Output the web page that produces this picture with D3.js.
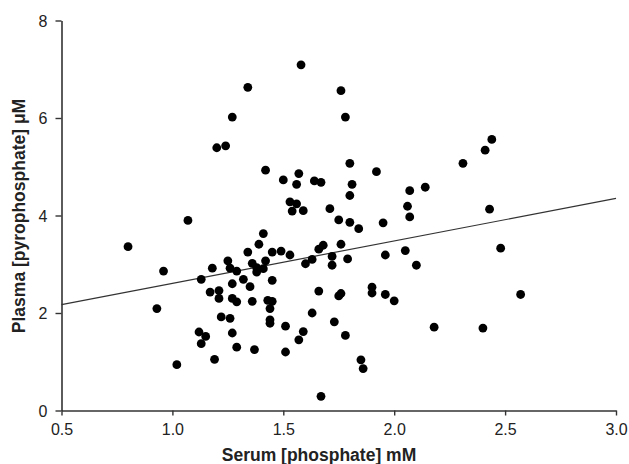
<!DOCTYPE html>
<html>
<head>
<meta charset="utf-8">
<script src="https://cdn.jsdelivr.net/npm/d3@7"></script>
<style>
  html, body { margin: 0; padding: 0; background: #fff; }
  svg { display: block; }
</style>
</head>
<body>
<svg id="chart" width="629" height="464"></svg>
<script>
// Serum phosphate (mM)
const serumPhosphate = [
  0.80, 0.96, 0.93, 1.02, 1.07, 1.13, 1.18, 1.17, 1.21, 1.21,
  1.12, 1.15, 1.13, 1.19, 1.22, 1.26, 1.25, 1.26, 1.29, 1.27,
  1.27, 1.29, 1.27, 1.29, 1.32, 1.34, 1.35, 1.36, 1.37, 1.36,
  1.38, 1.38, 1.41, 1.42, 1.39, 1.41, 1.45, 1.49, 1.53, 1.45,
  1.43, 1.45, 1.44, 1.44, 1.44, 1.51, 1.51, 1.57, 1.59, 1.63,
  1.66, 1.66, 1.63, 1.60, 1.67, 1.53, 1.56, 1.54, 1.59, 1.58,
  1.34, 1.27, 1.20, 1.24, 1.42, 1.50, 1.57, 1.56, 1.64, 1.67,
  1.76, 1.78, 1.80, 1.92, 1.81, 1.80, 2.31, 2.41, 2.44, 1.71,
  1.75, 1.80, 1.84, 1.95, 2.07, 2.14, 2.06, 2.07, 2.43, 1.68,
  1.76, 1.72, 1.72, 1.79, 1.96, 2.05, 2.10, 2.48, 1.75, 1.76,
  1.90, 1.90, 1.96, 2.00, 2.57, 1.73, 1.78, 2.18, 2.40, 1.85,
  1.86
];
// Plasma pyrophosphate (µM)
const plasmaPyrophosphate = [
  3.36, 2.86, 2.09, 0.94, 3.90, 2.69, 2.92, 2.43, 2.46, 2.30,
  1.61, 1.52, 1.37, 1.05, 1.92, 1.89, 3.07, 2.92, 2.86, 2.60,
  2.30, 2.23, 1.59, 1.30, 2.69, 3.25, 2.54, 2.24, 1.25, 3.02,
  2.93, 2.84, 2.91, 3.07, 3.41, 3.63, 3.25, 3.27, 3.19, 2.67,
  2.26, 2.24, 2.09, 1.86, 1.79, 1.73, 1.20, 1.45, 1.62, 2.00,
  2.45, 3.31, 3.10, 3.01, 0.29, 4.28, 4.24, 4.09, 4.10, 7.09,
  6.63, 6.02, 5.39, 5.43, 4.93, 4.73, 4.86, 4.64, 4.71, 4.68,
  6.56, 6.02, 5.07, 4.90, 4.64, 4.41, 5.07, 5.34, 5.56, 4.14,
  3.91, 3.86, 3.73, 3.85, 4.51, 4.58, 4.19, 3.97, 4.13, 3.39,
  3.41, 3.16, 2.98, 3.11, 3.19, 3.28, 2.98, 3.33, 2.35, 2.40,
  2.53, 2.41, 2.38, 2.25, 2.38, 1.82, 1.54, 1.71, 1.69, 1.04,
  0.86
];
// Regression line end points (x, y)
const fitX = [0.5, 3.0];
const fitY = [2.17, 4.35];

const xTicks = [0.5, 1.0, 1.5, 2.0, 2.5, 3.0];
const yTicks = [0, 2, 4, 6, 8];
const xTitle = "Serum [phosphate] mM";
const yTitle = "Plasma [pyrophosphate] \u03bcM";

const svg = d3.select("#chart");
const x = d3.scaleLinear().domain([0.5, 3.0]).range([61.5, 616]);
const y = d3.scaleLinear().domain([0, 8]).range([410.5, 20.5]);

const axisColor = "#333";
const font = "Arial, 'Liberation Sans', sans-serif";

// X axis
const gx = svg.append("g").attr("transform", `translate(0,${y(0)})`)
  .call(d3.axisBottom(x).tickValues(xTicks).tickFormat(d3.format(".1f")).tickSize(5).tickSizeOuter(0).tickPadding(8));
// Y axis
const gy = svg.append("g").attr("transform", `translate(${x(0.5)},0)`)
  .call(d3.axisLeft(y).tickValues(yTicks).tickFormat(d3.format("d")).tickSize(6).tickSizeOuter(0).tickPadding(8));

[gx, gy].forEach(g => {
  g.select(".domain").attr("stroke", axisColor).attr("stroke-width", 1.6);
  g.selectAll(".tick line").attr("stroke", axisColor).attr("stroke-width", 1.4);
  g.selectAll(".tick text").attr("fill", "#222").style("font-family", font).style("font-size", "16px");
});
gy.selectAll(".tick text").attr("dy", "0.36em");

// Regression line
svg.append("line")
  .attr("x1", x(fitX[0])).attr("y1", y(fitY[0]))
  .attr("x2", x(fitX[1])).attr("y2", y(fitY[1]))
  .attr("stroke", "#333").attr("stroke-width", 1.2);

// Points
const pts = serumPhosphate.map((v, i) => [v, plasmaPyrophosphate[i]]);
svg.append("g").selectAll("circle").data(pts).join("circle")
  .attr("cx", d => x(d[0])).attr("cy", d => y(d[1]))
  .attr("r", 4.4).attr("fill", "#000");

// Titles
svg.append("text")
  .attr("x", 319).attr("y", 461)
  .attr("text-anchor", "middle")
  .style("font-family", font).style("font-size", "17.5px").style("font-weight", "bold")
  .attr("fill", "#222").text(xTitle);

svg.append("text")
  .attr("transform", `translate(25,216) rotate(-90)`)
  .attr("text-anchor", "middle")
  .style("font-family", font).style("font-size", "17.5px").style("font-weight", "bold")
  .attr("fill", "#222").text(yTitle);
</script>
</body>
</html>
